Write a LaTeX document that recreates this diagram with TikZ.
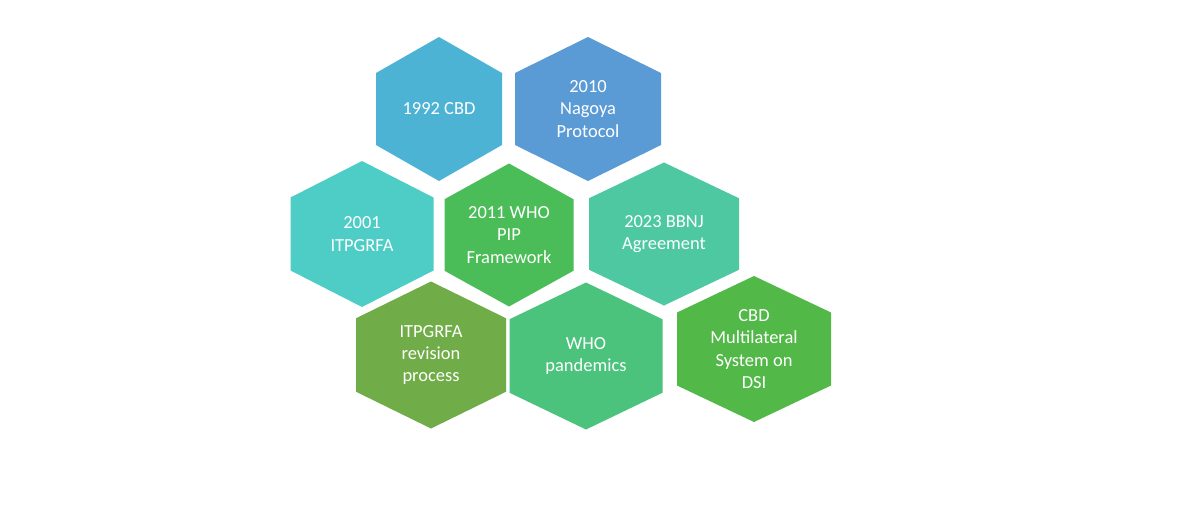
\documentclass[tikz,border=0pt]{standalone}
\usepackage{fontspec}
\setmainfont{Carlito}
\begin{document}
\begin{tikzpicture}[x=0.02cm,y=-0.02cm,
  lbl/.style={text=white,align=center,font=\fontsize{10.5}{12.8}\selectfont}]
\useasboundingbox (0,0) rectangle (1200,521);
\newcommand{\hexa}[7]{%
  \fill[#6] (#2,#3-#5/2) -- (#2+#4/2,#3-#5/4) -- (#2+#4/2,#3+#5/4) -- (#2,#3+#5/2) -- (#2-#4/2,#3+#5/4) -- (#2-#4/2,#3-#5/4) -- cycle;
  \node[lbl] (#1) at (#2,#3) {#7};}
\definecolor{cA}{HTML}{4DB3D4}
\definecolor{cB}{HTML}{5A9BD6}
\definecolor{cC}{HTML}{4ECDC6}
\definecolor{cD}{HTML}{4BBD58}
\definecolor{cE}{HTML}{4DC8A0}
\definecolor{cF}{HTML}{70AC47}
\definecolor{cG}{HTML}{4BC37C}
\definecolor{cH}{HTML}{52B848}
\hexa{cbd}{439}{109}{126}{144}{cA}{1992 CBD}
\hexa{nag}{588}{109}{146}{144}{cB}{2010\\Nagoya\\Protocol}
\hexa{itp}{362}{234}{143}{146}{cC}{2001\\ITPGRFA}
\hexa{who}{509}{235}{129}{143}{cD}{2011 WHO\\PIP\\Framework}
\hexa{bbnj}{664}{234}{150}{143}{cE}{2023 BBNJ\\Agreement}
\hexa{rev}{431}{355}{150}{147}{cF}{ITPGRFA\\revision\\process}
\hexa{pan}{586}{356}{153}{147}{cG}{WHO\\pandemics}
\hexa{dsi}{754}{349}{154}{146}{cH}{CBD\\Multilateral\\System on\\DSI}
\end{tikzpicture}
\end{document}
